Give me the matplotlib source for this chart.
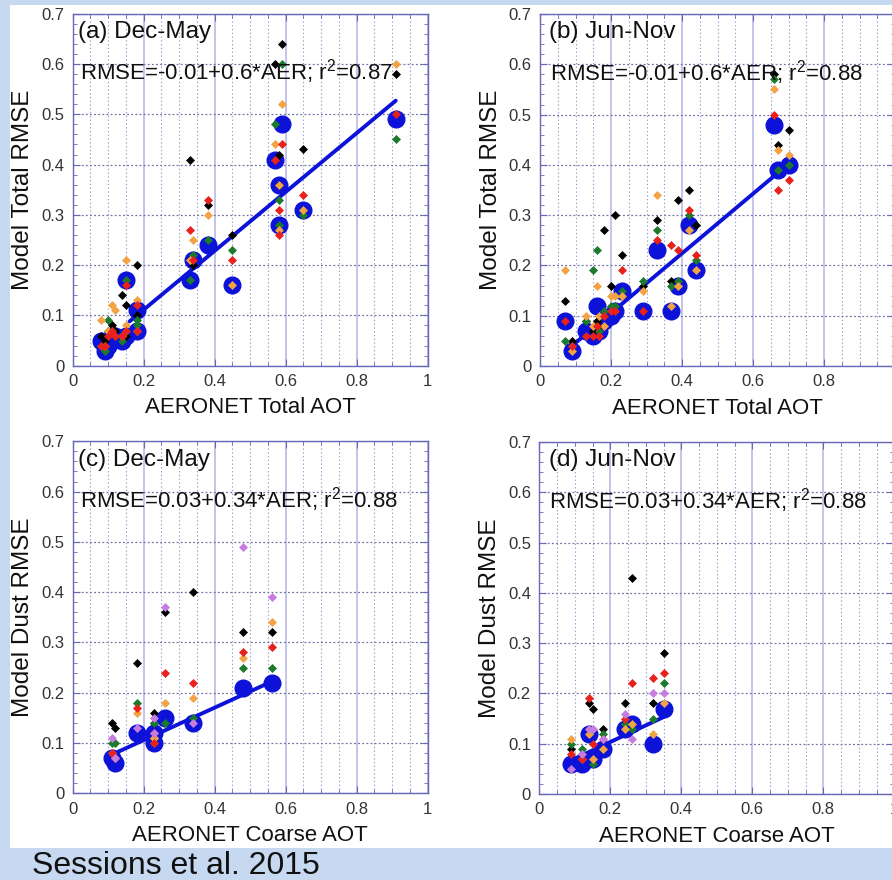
import matplotlib
matplotlib.use('Agg')
import matplotlib.pyplot as plt
from matplotlib.patches import Rectangle
from matplotlib.ticker import MultipleLocator

plt.rcParams['font.family'] = ['Liberation Sans', 'DejaVu Sans']
plt.rcParams['mathtext.default'] = 'regular'

# ---------------- data ----------------
# (a) Dec-May, total AOT
a_x      = [0.08, 0.09, 0.10, 0.11, 0.12, 0.14, 0.15, 0.15, 0.18, 0.18, 0.33, 0.34, 0.38, 0.45, 0.57, 0.59, 0.58, 0.58, 0.65, 0.91]
a_blue   = [0.05, 0.03, 0.04, 0.06, 0.06, 0.05, 0.17, 0.06, 0.11, 0.07, 0.17, 0.21, 0.24, 0.16, 0.41, 0.48, 0.36, 0.28, 0.31, 0.49]
a_black  = [0.06, 0.05, 0.07, 0.08, 0.07, 0.14, 0.12, 0.06, 0.20, 0.10, 0.41, 0.20, 0.32, 0.26, 0.60, 0.64, 0.42, 0.36, 0.43, 0.58]
a_red    = [0.04, 0.04, 0.06, 0.07, 0.06, 0.06, 0.16, 0.07, 0.12, 0.07, 0.27, 0.21, 0.33, 0.21, 0.41, 0.44, 0.31, 0.26, 0.34, 0.50]
a_orange = [0.09, 0.04, 0.07, 0.12, 0.11, 0.06, 0.21, 0.08, 0.13, 0.07, 0.21, 0.25, 0.30, 0.16, 0.44, 0.52, 0.36, 0.27, 0.31, 0.60]
a_green  = [0.04, 0.03, 0.09, 0.07, 0.06, 0.05, 0.17, 0.07, 0.09, 0.08, 0.17, 0.22, 0.25, 0.23, 0.48, 0.60, 0.33, 0.28, 0.30, 0.45]
a_fit_x  = [0.16, 0.91]
a_fit_y  = [0.088, 0.527]

# (b) Jun-Nov, total AOT
b_x      = [0.07, 0.09, 0.13, 0.15, 0.16, 0.165, 0.18, 0.20, 0.21, 0.23, 0.29, 0.33, 0.37, 0.39, 0.42, 0.44, 0.66, 0.67, 0.70]
b_blue   = [0.09, 0.03, 0.07, 0.06, 0.12, 0.07, 0.09, 0.10, 0.11, 0.15, 0.11, 0.23, 0.11, 0.16, 0.28, 0.19, 0.48, 0.39, 0.40]
b_black  = [0.13, 0.05, 0.09, 0.07, 0.09, 0.08, 0.27, 0.16, 0.30, 0.22, 0.16, 0.29, 0.17, 0.33, 0.35, 0.28, 0.58, 0.44, 0.47]
b_red    = [0.09, 0.04, 0.06, 0.06, 0.08, 0.06, 0.10, 0.11, 0.11, 0.19, 0.11, 0.25, 0.24, 0.23, 0.31, 0.22, 0.50, 0.35, 0.37]
b_orange = [0.19, 0.03, 0.10, 0.08, 0.16, 0.10, 0.08, 0.14, 0.14, 0.14, 0.15, 0.34, 0.12, 0.16, 0.27, 0.19, 0.55, 0.43, 0.42]
b_green  = [0.05, 0.04, 0.09, 0.19, 0.23, 0.07, 0.11, 0.12, 0.12, 0.15, 0.17, 0.27, 0.16, 0.17, 0.30, 0.21, 0.57, 0.39, 0.40]
b_fit_x  = [0.09, 0.68]
b_fit_y  = [0.04, 0.39]

# (c) Dec-May, coarse AOT
c_x      = [0.11, 0.12, 0.18, 0.23, 0.23, 0.26, 0.34, 0.48, 0.56]
c_blue   = [0.07, 0.06, 0.12, 0.12, 0.10, 0.15, 0.14, 0.21, 0.22]
c_black  = [0.14, 0.13, 0.26, 0.16, 0.14, 0.36, 0.40, 0.32, 0.32]
c_red    = [0.08, 0.07, 0.17, 0.12, 0.10, 0.24, 0.22, 0.28, 0.29]
c_orange = [0.08, 0.07, 0.16, 0.11, 0.11, 0.18, 0.19, 0.27, 0.34]
c_green  = [0.10, 0.10, 0.18, 0.14, 0.10, 0.14, 0.15, 0.25, 0.25]
c_purple = [0.11, 0.07, 0.13, 0.15, 0.12, 0.37, 0.14, 0.49, 0.39]
c_fit_x  = [0.12, 0.56]
c_fit_y  = [0.08, 0.222]

# (d) Jun-Nov, coarse AOT
d_x      = [0.09, 0.12, 0.15, 0.14, 0.18, 0.24, 0.26, 0.32, 0.35]
d_blue   = [0.06, 0.06, 0.07, 0.12, 0.09, 0.13, 0.14, 0.10, 0.17]
d_black  = [0.09, 0.08, 0.17, 0.18, 0.13, 0.18, 0.43, 0.18, 0.28]
d_red    = [0.08, 0.07, 0.10, 0.19, 0.11, 0.15, 0.22, 0.23, 0.24]
d_orange = [0.11, 0.07, 0.07, 0.12, 0.09, 0.13, 0.14, 0.12, 0.18]
d_green  = [0.10, 0.09, 0.06, 0.13, 0.12, 0.14, 0.13, 0.15, 0.22]
d_purple = [0.05, 0.08, 0.13, 0.13, 0.11, 0.16, 0.11, 0.20, 0.20]
d_fit_x  = [0.09, 0.35]
d_fit_y  = [0.067, 0.153]

panel_titles = ['(a) Dec-May', '(b) Jun-Nov', '(c) Dec-May', '(d) Jun-Nov']
equations = ['RMSE=-0.01+0.6*AER; r$^2$=0.87',
             'RMSE=-0.01+0.6*AER; r$^2$=0.88',
             'RMSE=0.03+0.34*AER; r$^2$=0.88',
             'RMSE=0.03+0.34*AER; r$^2$=0.88']
xlabels = ['AERONET Total AOT', 'AERONET Total AOT', 'AERONET Coarse AOT', 'AERONET Coarse AOT']
ylabels = ['Model Total RMSE', 'Model Total RMSE', 'Model Dust RMSE', 'Model Dust RMSE']
x_ticks = [0, 0.2, 0.4, 0.6, 0.8, 1]
x_tick_labels = ['0', '0.2', '0.4', '0.6', '0.8', '1']
y_ticks = [0, 0.1, 0.2, 0.3, 0.4, 0.5, 0.6, 0.7]
y_tick_labels = ['0', '0.1', '0.2', '0.3', '0.4', '0.5', '0.6', '0.7']
source_text = 'Sessions et al. 2015'

# ---------------- styles ----------------
BG = '#c6d9f1'
C_BLUE = '#0c12d8'
C_BLACK = '#000000'
C_RED = '#e8211c'
C_ORANGE = '#f2a444'
C_GREEN = '#1b7a2c'
C_PURPLE = '#c77ddf'
SPINE = '#6868b8'

fig = plt.figure(figsize=(8.92, 8.80), dpi=100, facecolor=BG)
fig.patches.append(Rectangle((10 / 892, 32 / 880), 1.0, 843 / 880,
                             transform=fig.transFigure, facecolor='white',
                             edgecolor='none', zorder=-10))

W = 355 / 892
H = 352 / 880
positions = [
    (72.7 / 892, (880 - 365.7) / 880, W, H),
    (540.0 / 892, (880 - 366.0) / 880, W, H),
    (72.7 / 892, (880 - 793.3) / 880, W, H),
    (539.3 / 892, (880 - 794.0) / 880, W, H),
]

panels = [
    (a_x, a_blue, [(a_black, C_BLACK), (a_green, C_GREEN), (a_orange, C_ORANGE), (a_red, C_RED)], a_fit_x, a_fit_y),
    (b_x, b_blue, [(b_black, C_BLACK), (b_green, C_GREEN), (b_orange, C_ORANGE), (b_red, C_RED)], b_fit_x, b_fit_y),
    (c_x, c_blue, [(c_black, C_BLACK), (c_green, C_GREEN), (c_orange, C_ORANGE), (c_red, C_RED), (c_purple, C_PURPLE)], c_fit_x, c_fit_y),
    (d_x, d_blue, [(d_black, C_BLACK), (d_green, C_GREEN), (d_orange, C_ORANGE), (d_red, C_RED), (d_purple, C_PURPLE)], d_fit_x, d_fit_y),
]

for i, (pos, (xs, blue, series, fx, fy)) in enumerate(zip(positions, panels)):
    ax = fig.add_axes(pos)
    ax.set_facecolor('white')
    ax.set_xlim(0, 1)
    ax.set_ylim(0, 0.7)
    ax.set_xticks(x_ticks)
    ax.set_xticklabels(x_tick_labels)
    ax.set_yticks(y_ticks)
    ax.set_yticklabels(y_tick_labels)
    ax.xaxis.set_minor_locator(MultipleLocator(0.05))
    ax.yaxis.set_minor_locator(MultipleLocator(0.02))
    ax.tick_params(which='both', direction='in', top=True, right=True,
                   color=SPINE, labelcolor='#333333')
    ax.tick_params(which='major', length=5, width=0.8, labelsize=12, pad=6)
    ax.tick_params(which='minor', length=3, width=0.6)
    for s in ax.spines.values():
        s.set_color(SPINE)
        s.set_linewidth(1.0)
    # grids
    ax.grid(True, which='minor', axis='x', color='#9a9ad0', linestyle=(0, (1.2, 2.2)), linewidth=0.8)
    ax.grid(True, which='major', axis='x', color='#b4b4e6', linestyle='-', linewidth=1.1)
    ax.grid(True, which='major', axis='y', color='#7272a8', linestyle=(0, (1.5, 1.8)), linewidth=0.9)
    ax.set_axisbelow(True)

    ax.plot(xs, blue, linestyle='none', marker='o', markersize=12,
            color=C_BLUE, markeredgecolor=C_BLUE, zorder=3)
    ax.plot(fx, fy, color=C_BLUE, linewidth=2.8, solid_capstyle='round', zorder=3.5)
    for vals, col in series:
        ax.plot(xs, vals, linestyle='none', marker='D', markersize=4.0,
                color=col, markeredgecolor=col, markeredgewidth=0.5, zorder=4)

    ax.text(0.016 if i % 2 == 0 else 0.026, 0.948, panel_titles[i], transform=ax.transAxes,
            fontsize=17.5, va='center', ha='left', color='#111111', zorder=5)
    ax.text(0.02 if i % 2 == 0 else 0.028, 0.835, equations[i], transform=ax.transAxes,
            fontsize=16, va='center', ha='left', color='#111111', zorder=5)
    ax.set_xlabel(xlabels[i], fontsize=16, labelpad=6, color='#111111')
    ax.set_ylabel(ylabels[i], fontsize=17.5, labelpad=5, color='#111111')

fig.text(32 / 892, 6.5 / 880, source_text, fontsize=23, ha='left', va='baseline', color='#111111')

fig.savefig('out.png', dpi=100, facecolor=BG)
